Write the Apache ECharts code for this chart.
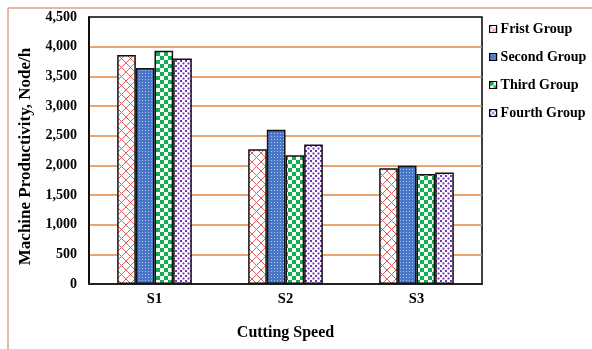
<!DOCTYPE html>
<html>
<head>
<meta charset="utf-8">
<script src="https://cdn.jsdelivr.net/npm/echarts@6/dist/echarts.min.js"></script>
<style>
  html, body { margin: 0; padding: 0; background: #fff; }
  #chart { width: 592px; height: 349px; }
</style>
</head>
<body>
<div id="chart"></div>
<script>
// Machine productivity per cutting speed, four groups
const categories = ['S1', 'S2', 'S3'];
const groupNames = ['Frist Group', 'Second Group', 'Third Group', 'Fourth Group'];
const fristGroup  = [3860, 2270, 1950];
const secondGroup = [3640, 2600, 1995];
const thirdGroup  = [3930, 2170, 1855];
const fourthGroup = [3800, 2350, 1880];
const yTicks = [0, 500, 1000, 1500, 2000, 2500, 3000, 3500, 4000, 4500];

const FONT = '"Liberation Serif", "DejaVu Serif", serif';

function makeCanvas(w, h, draw) {
  const c = document.createElement('canvas');
  c.width = w; c.height = h;
  const ctx = c.getContext('2d');
  draw(ctx, w, h);
  return c;
}

// red diagonal lattice on white
const crossHatch = makeCanvas(9, 9, (ctx, w, h) => {
  ctx.fillStyle = '#fff'; ctx.fillRect(0, 0, w, h);
  ctx.strokeStyle = '#e2494a'; ctx.lineWidth = 0.9;
  ctx.beginPath();
  ctx.moveTo(0, 0); ctx.lineTo(w, h);
  ctx.moveTo(w, 0); ctx.lineTo(0, h);
  ctx.stroke();
});
// blue with small light dots
const blueDots = makeCanvas(3, 3, (ctx, w, h) => {
  ctx.fillStyle = '#4a76c8'; ctx.fillRect(0, 0, w, h);
  ctx.fillStyle = '#a9c2ee'; ctx.fillRect(1, 1, 1, 1);
});
// green / white checkerboard
const checker = makeCanvas(8, 8, (ctx, w, h) => {
  ctx.fillStyle = '#fff'; ctx.fillRect(0, 0, w, h);
  ctx.fillStyle = '#10b050';
  ctx.fillRect(0, 0, 4, 4); ctx.fillRect(4, 4, 4, 4);
});
// purple dots on white
const purpleDots = makeCanvas(5, 5, (ctx, w, h) => {
  ctx.fillStyle = '#fff'; ctx.fillRect(0, 0, w, h);
  ctx.fillStyle = '#7434b0';
  ctx.fillRect(0, 0, 2, 2); ctx.fillRect(2.5, 2.5, 2, 2);
});

const fills = [crossHatch, blueDots, checker, purpleDots];
const values = [fristGroup, secondGroup, thirdGroup, fourthGroup];

const chart = echarts.init(document.getElementById('chart'), null, { renderer: 'canvas' });

chart.setOption({
  animation: false,
  backgroundColor: '#fff',
  grid: {
    left: 89, right: 110, top: 17, bottom: 65,
    show: true, borderColor: '#000', borderWidth: 1.5, backgroundColor: 'transparent'
  },
  legend: {
    orient: 'vertical',
    left: 484, top: 16,
    itemWidth: 7, itemHeight: 7, itemGap: 12,
    icon: 'rect',
    itemStyle: { borderColor: '#000', borderWidth: 1.2 },
    textStyle: { fontFamily: FONT, fontWeight: 'bold', fontSize: 14, color: '#000', lineHeight: 16, padding: [0, 0, 0, -1] },
    data: groupNames
  },
  xAxis: {
    type: 'category',
    data: categories,
    axisLine: { lineStyle: { color: '#222', width: 2 } },
    axisTick: { show: false },
    axisLabel: { fontFamily: FONT, fontWeight: 'bold', fontSize: 14.5, color: '#000', margin: 8 },
    name: 'Cutting Speed',
    nameLocation: 'middle',
    nameGap: 41,
    nameTextStyle: { fontFamily: FONT, fontWeight: 'bold', fontSize: 16, color: '#000' }
  },
  yAxis: {
    type: 'value',
    min: yTicks[0], max: yTicks[yTicks.length - 1], interval: 500,
    axisLine: { show: true, lineStyle: { color: '#000', width: 1.5 } },
    axisTick: { show: false },
    axisLabel: {
      fontFamily: FONT, fontWeight: 'bold', fontSize: 14, color: '#000', margin: 12,
      formatter: v => v.toLocaleString('en-US')
    },
    splitLine: { showMinLine: false, showMaxLine: false, lineStyle: { color: '#e5853f', width: 1.5 } },
    name: 'Machine Productivity, Node/h',
    nameLocation: 'middle',
    nameGap: 51,
    nameTextStyle: { fontFamily: FONT, fontWeight: 'bold', fontSize: 17, color: '#000', padding: [0, 12, 0, 0] },
  },
  series: groupNames.map((name, i) => ({
    name,
    type: 'bar',
    data: values[i],
    barGap: '0%',
    barCategoryGap: '43%',
    itemStyle: {
      color: { image: fills[i], repeat: 'repeat' },
      borderColor: '#111', borderWidth: 1.5
    }
  })),
  graphic: [
    { type: 'line', shape: { x1: 8, y1: 8, x2: 592, y2: 8 }, style: { stroke: '#e3a07c', lineWidth: 1.5 } },
    { type: 'line', shape: { x1: 8, y1: 8, x2: 8, y2: 349 }, style: { stroke: '#e3a07c', lineWidth: 1.5 } }
  ]
});
</script>
</body>
</html>
